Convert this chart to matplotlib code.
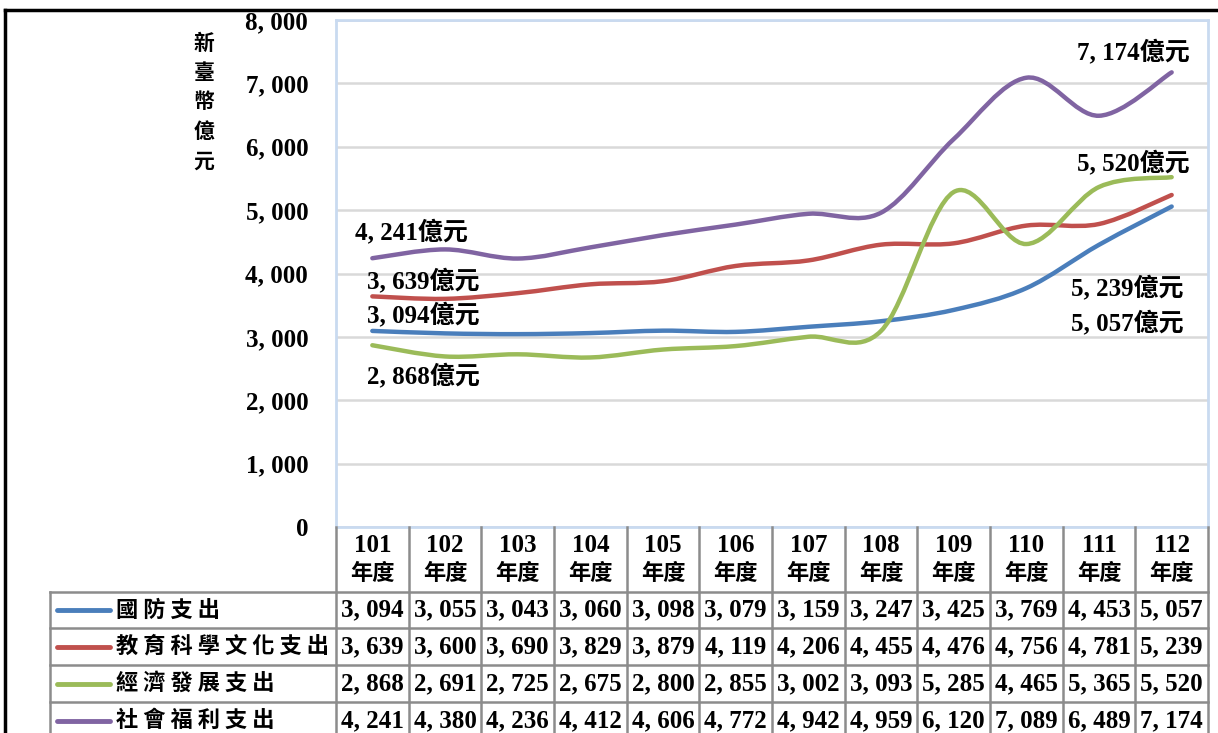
import matplotlib
matplotlib.use('Agg')
import matplotlib.pyplot as plt
from matplotlib.path import Path
from matplotlib.patches import PathPatch
from matplotlib.lines import Line2D

plt.rcParams['font.family'] = ['Liberation Serif', 'Noto Sans CJK TC']
plt.rcParams['font.weight'] = 'bold'

anos = ['101', '102', '103', '104', '105', '106', '107', '108', '109', '110', '111', '112']
series_nomes = ['國防支出', '教育科學文化支出', '經濟發展支出', '社會福利支出']
defesa = [3094, 3055, 3043, 3060, 3098, 3079, 3159, 3247, 3425, 3769, 4453, 5057]
educacao = [3639, 3600, 3690, 3829, 3879, 4119, 4206, 4455, 4476, 4756, 4781, 5239]
economia = [2868, 2691, 2725, 2675, 2800, 2855, 3002, 3093, 5285, 4465, 5365, 5520]
social = [4241, 4380, 4236, 4412, 4606, 4772, 4942, 4959, 6120, 7089, 6489, 7174]
y_ticks = [0, 1000, 2000, 3000, 4000, 5000, 6000, 7000, 8000]
cores = ['#4A7EBB', '#C0504D', '#9BBB59', '#8064A2']

W, H = 1218, 733


def fx(x):
    return x / W


def fy(y):
    return 1 - y / H


def curva_suave(xs, ys):
    # segmentos bezier tipo Catmull-Rom (como linha suavizada do Excel)
    n = len(xs)
    verts = [(xs[0], ys[0])]
    codes = [Path.MOVETO]
    for i in range(n - 1):
        i0 = max(i - 1, 0)
        i3 = min(i + 2, n - 1)
        c1 = (xs[i] + (xs[i + 1] - xs[i0]) / 6, ys[i] + (ys[i + 1] - ys[i0]) / 6)
        c2 = (xs[i + 1] - (xs[i3] - xs[i]) / 6, ys[i + 1] - (ys[i3] - ys[i]) / 6)
        verts += [c1, c2, (xs[i + 1], ys[i + 1])]
        codes += [Path.CURVE4] * 3
    return Path(verts, codes)


fig = plt.figure(figsize=(W / 100, H / 100), dpi=100)
x0, x1, y_top, y_bot = 336, 1208, 20, 527
ax = fig.add_axes([fx(x0), fy(y_bot), fx(x1) - fx(x0), fy(y_top) - fy(y_bot)])
ax.set_xlim(-0.5, len(anos) - 0.5)
ax.set_ylim(0, 8000)
ax.set_yticks(y_ticks)
ax.set_yticklabels([f'{v:,}'.replace(',', ', ') for v in y_ticks], fontsize=18, fontweight='bold')
ax.tick_params(axis='y', length=0, pad=20)
ax.set_xticks([])
ax.grid(axis='y', color='#d9d9d9', lw=1.8)
ax.set_axisbelow(True)
for s in ax.spines.values():
    s.set_color('#c9daf0')
    s.set_linewidth(2)

todas = [defesa, educacao, economia, social]
xs = list(range(len(anos)))
for vals, cor in zip(todas, cores):
    ax.add_patch(PathPatch(curva_suave(xs, vals), fill=False, edgecolor=cor, lw=3.2,
                           capstyle='round', zorder=3))

# rotulos de valores
def rot(v):
    return f'{v:,}'.replace(',', ', ') + '億元'

fs_rot = 18
fig.text(fx(1133), fy(52), rot(social[-1]), ha='center', va='center', fontsize=fs_rot)
fig.text(fx(1133), fy(163), rot(economia[-1]), ha='center', va='center', fontsize=fs_rot)
fig.text(fx(1127), fy(288), rot(educacao[-1]), ha='center', va='center', fontsize=fs_rot)
fig.text(fx(1127), fy(323), rot(defesa[-1]), ha='center', va='center', fontsize=fs_rot)
fig.text(fx(411), fy(232), rot(social[0]), ha='center', va='center', fontsize=fs_rot)
fig.text(fx(423), fy(281), rot(educacao[0]), ha='center', va='center', fontsize=fs_rot)
fig.text(fx(423), fy(315), rot(defesa[0]), ha='center', va='center', fontsize=fs_rot)
fig.text(fx(423), fy(376), rot(economia[0]), ha='center', va='center', fontsize=fs_rot)

# titulo do eixo y, vertical
for k, ch in enumerate('新臺幣億元'):
    fig.text(fx(204), fy(43 + k * 29.5), ch, ha='center', va='center', fontsize=15,
             family='Noto Sans CJK TC', fontweight='bold')

# tabela de dados
col_w = (x1 - x0) / len(anos)
linhas_y = [y_bot, 592, 628, 665, 702, 739]
cinza = '#8c8c8c'


def linha(xa, ya, xb, yb, **kw):
    fig.add_artist(Line2D([fx(xa), fx(xb)], [fy(ya), fy(yb)], transform=fig.transFigure, **kw))


for i in range(len(anos) + 1):
    linha(x0 + i * col_w, y_bot, x0 + i * col_w, H + 5, color=cinza, lw=1.8)
for yy in linhas_y[1:]:
    linha(50, yy, x1, yy, color=cinza, lw=1.8)
linha(50, 592, 50, H + 5, color=cinza, lw=1.8)

for i, a in enumerate(anos):
    cx = x0 + (i + 0.5) * col_w
    fig.text(fx(cx), fy(545), a, ha='center', va='center', fontsize=18)
    fig.text(fx(cx), fy(574), '年度', ha='center', va='center', fontsize=16,
             family='Noto Sans CJK TC')

for r, (nome, vals, cor) in enumerate(zip(series_nomes, todas, cores)):
    cy = (linhas_y[r + 1] + linhas_y[r + 2]) / 2
    linha(57, cy, 110, cy, color=cor, lw=3.5, solid_capstyle='round')
    fig.text(fx(116), fy(cy), ' '.join(nome), ha='left', va='center', fontsize=16,
             family='Noto Sans CJK TC', fontweight='bold')
    for i, v in enumerate(vals):
        cx = x0 + (i + 0.5) * col_w
        fig.text(fx(cx), fy(cy), f'{v:,}'.replace(',', ', '), ha='center', va='center',
                 fontsize=18)

# moldura externa
linha(5, 10, W + 5, 10, color='black', lw=2.5)
linha(5, 10, 5, H + 5, color='black', lw=2.5)

fig.savefig('out.png', dpi=100)
